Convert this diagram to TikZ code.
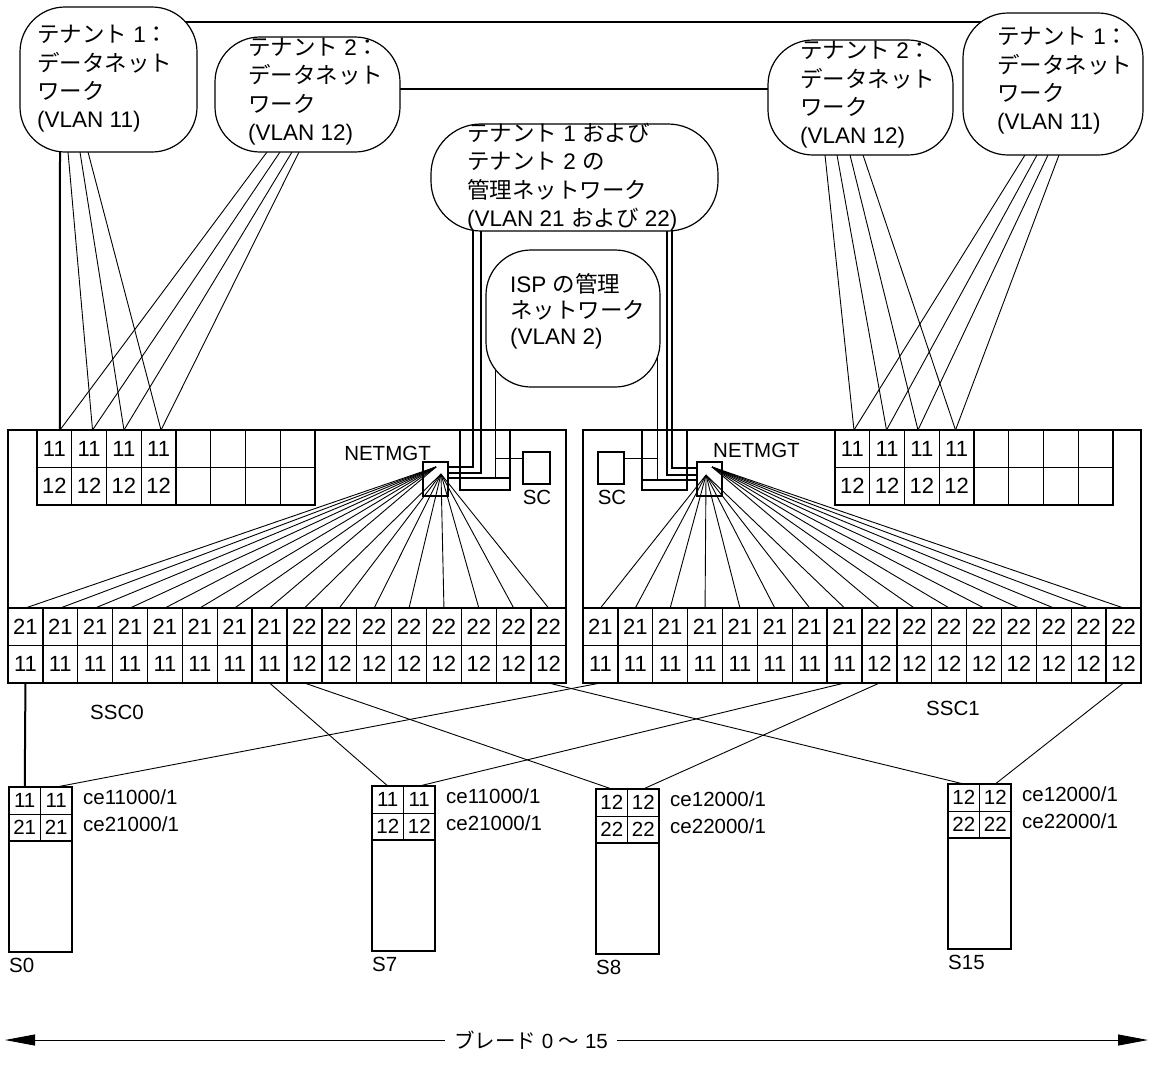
\documentclass[tikz,border=0pt]{standalone}
\usepackage{fontspec}
\setmainfont{Liberation Sans}
\newfontfamily\jfont{Noto Sans CJK JP}
\newcommand\jp[1]{{\jfont #1}}
\usetikzlibrary{arrows.meta,calc}
\pgfdeclarelayer{bg}
\pgfsetlayers{bg,main}
\newcommand\srv[8]{%
  \node[frame, minimum width=63pt, minimum height=165pt, anchor=north west] (#1) at (#2,#3) {};
  \node[scell, anchor=north west] (#1a) at (#2,#3) {#4};
  \node[scell, anchor=north west] (#1b) at (#1a.north east) {#4};
  \node[scell, anchor=north west] (#1c) at (#1a.south west) {#5};
  \node[scell, anchor=north west] (#1d) at (#1b.south west) {#5};
  \draw[frame] (#1c.south west) -- (#1d.south east);
  \node[lbl, anchor=west] (#1x) at ([xshift=11pt,yshift=3pt]#1b.east) {#6};
  \node[lbl, anchor=west] (#1y) at ([xshift=11pt,yshift=3pt]#1d.east) {#7};
  \node[lbl, anchor=north west] (#1z) at ([yshift=-6pt]#1.south west) {#8};
}
\begin{document}
\begin{tikzpicture}[x=1pt,y=-1pt,
  bubble/.style={draw,line width=1.2pt,fill=white,rounded corners=#1,inner sep=0pt,outer sep=0pt},
  bubble/.default=45pt,
  btext/.style={align=left,inner sep=0pt,anchor=west,font=\fontsize{22.5}{28.4}\selectfont},
  lbl/.style={inner sep=0pt,font=\fontsize{20.5}{24}\selectfont},
  pcell/.style={draw,line width=1.3pt,minimum width=34.875pt,minimum height=37.5pt,inner sep=0pt,outer sep=0pt,font=\fontsize{22}{24}\selectfont},
  gcell/.style={pcell,minimum width=34.75pt},
  scell/.style={draw,line width=0.9pt,minimum width=31.5pt,minimum height=27pt,inner sep=0pt,outer sep=0pt,font=\fontsize{20.5}{22}\selectfont},
  frame/.style={draw,line width=2pt,inner sep=0pt,outer sep=0pt},
  wire/.style={line width=0.9pt},
  twire/.style={line width=2pt},
  mwire/.style={line width=1.4pt}
]
\useasboundingbox (0,0) rectangle (1153,1071);

% ---------- bubbles ----------
\node[bubble, minimum width=177pt, minimum height=145pt] (t1l) at (108.5,79.5) {};
\node[bubble, minimum width=185pt, minimum height=115pt] (t2l) at (307.5,94.5) {};
\node[bubble=50pt, minimum width=287pt, minimum height=107pt] (mg) at (574.5,177.5) {};
\node[bubble, minimum width=174pt, minimum height=137pt] (isp) at (573,318.5) {};
\node[bubble, minimum width=185pt, minimum height=115pt] (t2r) at (860.5,97.5) {};
\node[bubble, minimum width=180pt, minimum height=142pt] (t1r) at (1053,84) {};

\node[btext] (t1lx) at (37,79) {\jp{テナント} 1\jp{：}\\\jp{データネット}\\\jp{ワーク}\\(VLAN 11)};
\node[btext] (t2lx) at (248,91.5) {\jp{テナント} 2\jp{：}\\\jp{データネット}\\\jp{ワーク}\\(VLAN 12)};
\node[btext] (t2rx) at (800,95) {\jp{テナント} 2\jp{：}\\\jp{データネット}\\\jp{ワーク}\\(VLAN 12)};
\node[btext] (t1rx) at (997,81) {\jp{テナント} 1\jp{：}\\\jp{データネット}\\\jp{ワーク}\\(VLAN 11)};
\node[btext] (mgx) at (467,177) {\jp{テナント} 1 \jp{および}\\\jp{テナント} 2 \jp{の}\\\jp{管理ネットワーク}\\(VLAN 21 \jp{および} 22)};
\node[btext, font=\fontsize{22.5}{26}\selectfont] (ispx) at (510,311) {ISP \jp{の管理}\\\jp{ネットワーク}\\(VLAN 2)};

% ---------- SSC boxes ----------
\node[frame, minimum width=558pt, minimum height=253pt] (ssc0) at (287,556.5) {};
\node[frame, minimum width=558pt, minimum height=253pt] (ssc1) at (862,556.5) {};

\foreach \i in {1,...,16}{
  \pgfmathsetmacro\px{8+(\i-0.5)*34.875}
  \pgfmathsetmacro\qx{583+(\i-0.5)*34.875}
  \ifnum\i<9 \def\up{21}\def\lo{11}\else\def\up{22}\def\lo{12}\fi
  \node[pcell] (a\i) at (\px,626.75) {\up};
  \node[pcell] (b\i) at (\px,664.25) {\lo};
  \node[pcell] (c\i) at (\qx,626.75) {\up};
  \node[pcell] (d\i) at (\qx,664.25) {\lo};
}
\foreach \j in {1,...,8}{
  \pgfmathsetmacro\gx{37+(\j-0.5)*34.75}
  \pgfmathsetmacro\hx{835+(\j-0.5)*34.75}
  \ifnum\j<5 \def\up{11}\def\lo{12}\else\def\up{}\def\lo{}\fi
  \node[gcell] (ga\j) at (\gx,448.75) {\up};
  \node[gcell] (gb\j) at (\gx,486.25) {\lo};
  \node[gcell] (ha\j) at (\hx,448.75) {\up};
  \node[gcell] (hb\j) at (\hx,486.25) {\lo};
}
\draw[frame] (ga1.north west) rectangle (gb8.south east);
\draw[frame] (ha1.north west) rectangle (hb8.south east);
\draw[frame] (a9.north west) rectangle (b16.south east);
\draw[frame] (c1.north west) rectangle (d8.south east);

\node[frame, minimum width=25pt, minimum height=34pt] (n0) at (435.5,479) {};
\node[frame, minimum width=25pt, minimum height=34pt] (n1) at (709.5,479) {};
\node[frame, minimum width=27pt, minimum height=32pt] (sc0) at (536.5,468) {};
\node[frame, minimum width=26pt, minimum height=32pt] (sc1) at (611,468) {};
\node[lbl, anchor=east] (nl0) at (431,453) {NETMGT};
\node[lbl, anchor=west] (nl1) at (713,450) {NETMGT};
\node[lbl] (scl0) at (537,497) {SC};
\node[lbl] (scl1) at (612,497) {SC};
\node[lbl] (sl0) at (117,712) {SSC0};
\node[lbl] (sl1) at (953,708) {SSC1};

% ---------- servers ----------
\srv{s0}{9}{787}{11}{21}{ce11000/1}{ce21000/1}{S0}
\srv{s7}{372}{786}{11}{12}{ce11000/1}{ce21000/1}{S7}
\srv{s8}{596}{789}{12}{22}{ce12000/1}{ce22000/1}{S8}
\srv{s15}{948}{784}{12}{22}{ce12000/1}{ce22000/1}{S15}

% ---------- blade arrow ----------
\coordinate (al) at (5,1040);
\coordinate (ar) at (1148,1040);
\node[font=\fontsize{20.5}{24}\selectfont, inner xsep=9pt, inner ysep=0pt] (blade) at (531,1040) {\jp{ブレード} 0 \jp{〜} 15};
\draw[wire, -{Triangle[length=30pt,width=11pt]}] (blade) -- (al);
\draw[wire, -{Triangle[length=30pt,width=11pt]}] (blade) -- (ar);

% ---------- wires (behind) ----------
\begin{pgfonlayer}{bg}
\fill[white] (0,0) rectangle (1153,1071);
\path ([yshift=-15pt]t1l.north) coordinate (tA);
\draw[twire] (tA) -- (tA -| t1r.center);
\path ([yshift=5.5pt]t2l.center) coordinate (tB);
\draw[mwire] (tB) -- (tB -| t2r.center);

\draw[twire] ([xshift=-48.5pt]t1l.south) -- ([xshift=5.6pt]ga1.north);
\foreach \s/\e/\k in {-40.5/3.4/2, -28.5/0.1/3, -20.5/2.4/4}
  \draw[wire] ([xshift=\s]t1l.south) -- ([xshift=\e]ga\k.north);
\foreach \s/\e/\k in {-40.5/5.6/1, -27.5/3.4/2, -15.5/0.1/3, -8.5/2.4/4}
  \draw[wire] ([xshift=\s]t2l.south) -- ([xshift=\e]ga\k.north);
\foreach \s/\e/\k in {-35.5/1.6/1, -23.5/-0.6/2, -10.5/-3.9/3, 2.5/-1.1/4}
  \draw[wire] ([xshift=\s]t2r.south) -- ([xshift=\e]ha\k.north);
\foreach \s/\e/\k in {-28/1.6/1, -16/-0.6/2, -5/-3.9/3, 6/-1.1/4}
  \draw[wire] ([xshift=\s]t1r.south) -- ([xshift=\e]ha\k.north);

% SSC0 management wiring
\draw[twire] ([xshift=-101.5pt]mg.south) |- ([yshift=12pt]n0.east);
\draw[mwire] ([xshift=-93.5pt]mg.south) |- ([yshift=6pt]n0.east);
\draw[twire] (460,430) -- (460,490) -- (510,490) -- (510,430);
\draw[twire] ([yshift=1pt]n0.east) -- (510,478);
\draw[wire] ($(isp.center)+(-78,0)$) -- (495,478);
\draw[wire] ([yshift=10pt]sc0.west) -- (495,458);
% SSC1 management wiring
\draw[twire] ([xshift=92.5pt]mg.south) |- ([yshift=4pt]n1.west);
\draw[mwire] ([xshift=97.5pt]mg.south) |- ([yshift=11pt]n1.west);
\draw[twire] (642,430) -- (642,490) -- (687,490) -- (687,430);
\draw[twire] (642,480) -- ([yshift=-1pt]n1.west);
\draw[wire] ($(isp.center)+(84,0)$) -- (657,480);
\draw[wire] ([yshift=10pt]sc1.east) -- (657,458);

% NETMGT fans
\path ([xshift=0.5pt,yshift=12pt]n0.center) coordinate (f0a)
      ([xshift=5.5pt,yshift=5pt]n0.center) coordinate (f0b)
      ([xshift=-3.5pt,yshift=4pt]n1.center) coordinate (f1b)
      ([xshift=2.5pt,yshift=12pt]n1.center) coordinate (f1a);
\foreach \i in {1,...,8} \draw[wire] (f0a) -- (a\i.north);
\foreach \i in {9,...,16} \draw[wire] (f0b) -- (a\i.north);
\foreach \i in {1,...,8} \draw[wire] (f1b) -- (c\i.north);
\foreach \i in {9,...,16} \draw[wire] (f1a) -- (c\i.north);

% SSC -> servers
\draw[twire] (b1.south) -- (s0a.north);
\draw[wire] (d1.south) -- (s0b.north);
\draw[wire] (b8.south) -- (s7a.north);
\draw[wire] (d8.south) -- (s7b.north);
\draw[wire] (b9.south) -- (s8a.north);
\draw[wire] (d9.south) -- (s8b.north);
\draw[wire] (b16.south) -- (s15a.north);
\draw[wire] (d16.south) -- (s15b.north);
\end{pgfonlayer}
\end{tikzpicture}
\end{document}
